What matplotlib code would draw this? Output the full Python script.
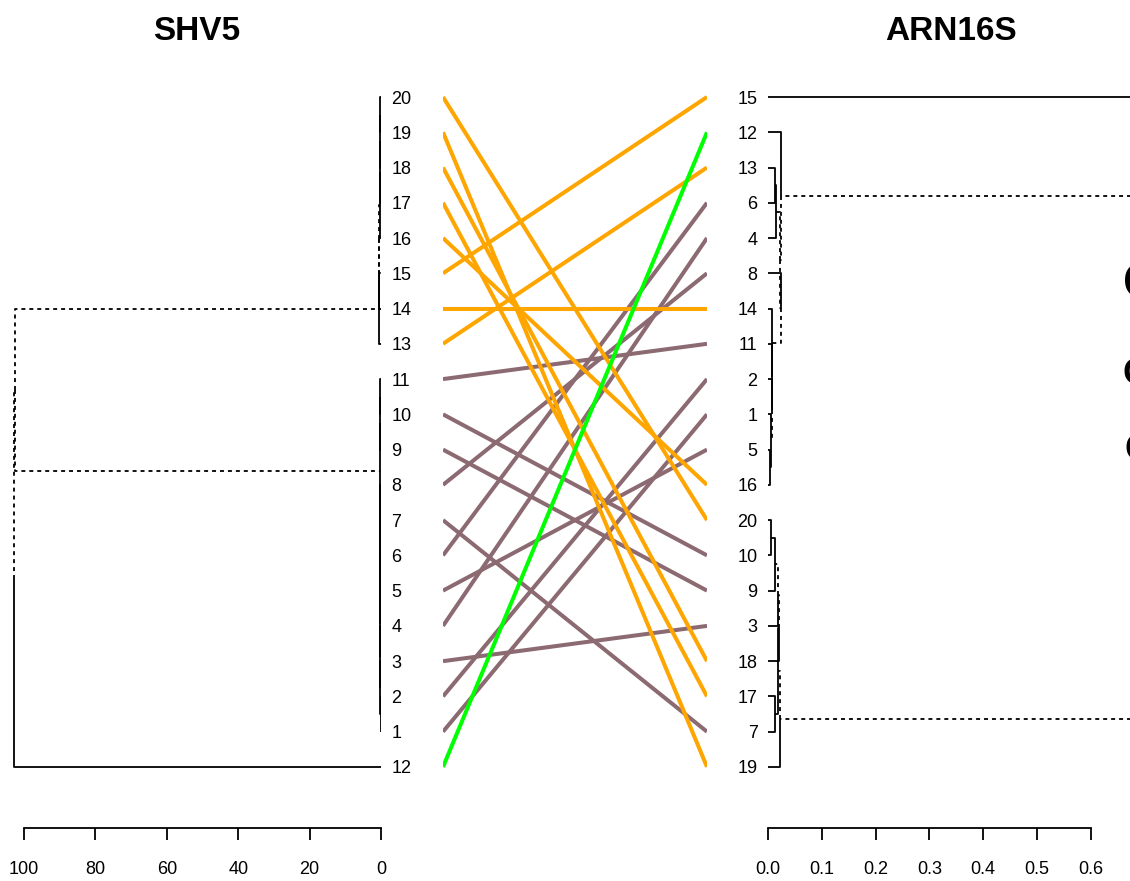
import matplotlib
matplotlib.use("Agg")
import matplotlib.pyplot as plt

plt.rcParams['font.family'] = ['Liberation Sans', 'DejaVu Sans']

# trees: a node is (height, dotted_edge, left, right); a leaf is an int label
# left tree (SHV5)
top_chain = (0.2, False, 20, 19)
top_chain = (0.25, False, top_chain, 18)
top_chain = (0.3, False, top_chain, 17)
top_chain = (0.35, True, top_chain, 16)
top_chain = (0.45, True, top_chain, 15)
top_chain = (0.5, False, top_chain, 14)
shv_top = (0.55, True, top_chain, 13)
shv_mid_a = (0.35, False, (0.3, False, 11, 10), 9)
shv_mid_b = (0.1, False, 2, 1)
for lab, h in [(3, 0.3), (4, 0.3), (5, 0.3), (6, 0.3), (7, 0.3), (8, 0.3)]:
    shv_mid_b = (h, False, lab, shv_mid_b)
shv_mid = (0.4, True, shv_mid_a, shv_mid_b)
shv_tree = (102.8, False, (102.6, True, shv_top, shv_mid), 12)
shv_dotted_leaves = [15]

# right tree (ARN16S)
arn_i = (0.004, False, 5, 16)
arn_i = (0.005, True, 1, arn_i)
arn_i = (0.007, False, 2, arn_i)
arn_i = (0.008, False, 11, arn_i)
arn_i = (0.008, True, 14, arn_i)
arn_j = (0.024, True, 8, arn_i)
arn_b = (0.015, True, (0.013, False, 13, 6), 4)
arn_k = (0.024, True, 12, (0.023, True, arn_b, arn_j))
arn_m = (0.013, True, (0.006, False, 20, 10), 9)
arn_o = (0.020, False, (0.019, True, arn_m, 3), 18)
arn_r = (0.022, True, (0.019, True, arn_o, (0.013, False, 17, 7)), 19)
arn_tree = (0.9, False, 15, (0.8, False, arn_k, arn_r))
arn_dotted_leaves = []

group_orange = [13, 14, 15, 16, 17, 18, 19, 20]
group_green = [12]
group_brown = [1, 2, 3, 4, 5, 6, 7, 8, 9, 10, 11]

left_ticks = [100, 80, 60, 40, 20, 0]
right_ticks = [0.0, 0.1, 0.2, 0.3, 0.4, 0.5, 0.6]

W, H = 1130, 881
fig = plt.figure(figsize=(W / 100, H / 100), dpi=100)


def leaf_order(node):
    if isinstance(node, int):
        return [node]
    return leaf_order(node[2]) + leaf_order(node[3])


def node_y(node, pos):
    if isinstance(node, int):
        return pos[node]
    return (node_y(node[2], pos) + node_y(node[3], pos)) / 2


def draw_tree(ax, node, pos, dotted_leaves):
    # draws the edges of the children of node, R style
    if isinstance(node, int):
        return pos[node], 0.0
    h = node[0]
    for child in node[2:]:
        cy, ch = draw_tree(ax, child, pos, dotted_leaves)
        dotted = child[1] if not isinstance(child, int) else child in dotted_leaves
        ls = (0, (2.2, 2.2)) if dotted else '-'
        ax.plot([h, h, ch], [node_y(node, pos), cy, cy], color='black', lw=1.3, ls=ls,
                solid_capstyle='butt')
    return node_y(node, pos), h


ybot, ytop = (828 - 97) / 35.26, (80 - 97) / 35.26
axb, axh = (H - 828) / H, (828 - 80) / H

ax_l = fig.add_axes([0, axb, 381 / W, axh])
ax_m = fig.add_axes([443 / W, axb, (707 - 443) / W, axh])
ax_r = fig.add_axes([768 / W, axb, (W - 768) / W, axh])

left_order = leaf_order(shv_tree)
right_order = leaf_order(arn_tree)
lpos = {lab: i for i, lab in enumerate(left_order)}
rpos = {lab: i for i, lab in enumerate(right_order)}

draw_tree(ax_l, shv_tree, lpos, shv_dotted_leaves)
draw_tree(ax_r, arn_tree, rpos, arn_dotted_leaves)

# connecting lines
for labs, col in [(group_brown, '#8C6A72'), (group_orange, '#FFA500'), (group_green, '#00FF00')]:
    for lab in labs:
        ax_m.plot([0, 1], [lpos[lab], rpos[lab]], color=col, lw=2.9, solid_capstyle='butt')

ax_l.set_xlim(381 / 3.57, 0)
ax_r.set_xlim(0, (W - 768) / 538)
ax_m.set_xlim(0, 1)

for ax in (ax_l, ax_m, ax_r):
    ax.set_ylim(ybot, ytop)
    for s in ax.spines.values():
        s.set_visible(False)
    ax.patch.set_alpha(0)

ax_m.set_xticks([])
ax_m.set_yticks([])

ax_l.set_xticks(left_ticks)
ax_l.set_xticklabels([str(t) for t in left_ticks])
ax_l.spines['bottom'].set_visible(True)
ax_l.spines['bottom'].set_bounds(100, 0)
ax_l.yaxis.tick_right()
ax_l.set_yticks(range(len(left_order)))
ax_l.set_yticklabels([str(l) for l in left_order])
ax_l.tick_params(axis='y', length=0, pad=7.5, labelsize=13)

ax_r.set_xticks(right_ticks)
ax_r.set_xticklabels([f"{t:.1f}" for t in right_ticks])
ax_r.spines['bottom'].set_visible(True)
ax_r.spines['bottom'].set_bounds(0, 0.6)
ax_r.set_yticks(range(len(right_order)))
ax_r.set_yticklabels([str(l) for l in right_order])
ax_r.tick_params(axis='y', length=0, pad=7.5, labelsize=13)

for ax in (ax_l, ax_r):
    ax.spines['bottom'].set_linewidth(1.3)
    ax.tick_params(axis='x', length=8.6, width=1.3, pad=15, labelsize=13)

fig.text(197 / W, 1 - 32 / H, "SHV5", ha='center', va='center', fontsize=24, fontweight='bold')
fig.text(951 / W, 1 - 32 / H, "ARN16S", ha='center', va='center', fontsize=24, fontweight='bold')

# text cut off at the right edge, as in the reference
fig.text(1123 / W, 1 - 285 / H, "O", ha='left', va='center', fontsize=36, fontweight='bold')
fig.text(1123 / W, 1 - 375 / H, "O", ha='left', va='center', fontsize=26, fontweight='bold')
fig.text(1124 / W, 1 - 450 / H, "C", ha='left', va='center', fontsize=26, fontweight='bold')

fig.savefig("out.png", dpi=100)
